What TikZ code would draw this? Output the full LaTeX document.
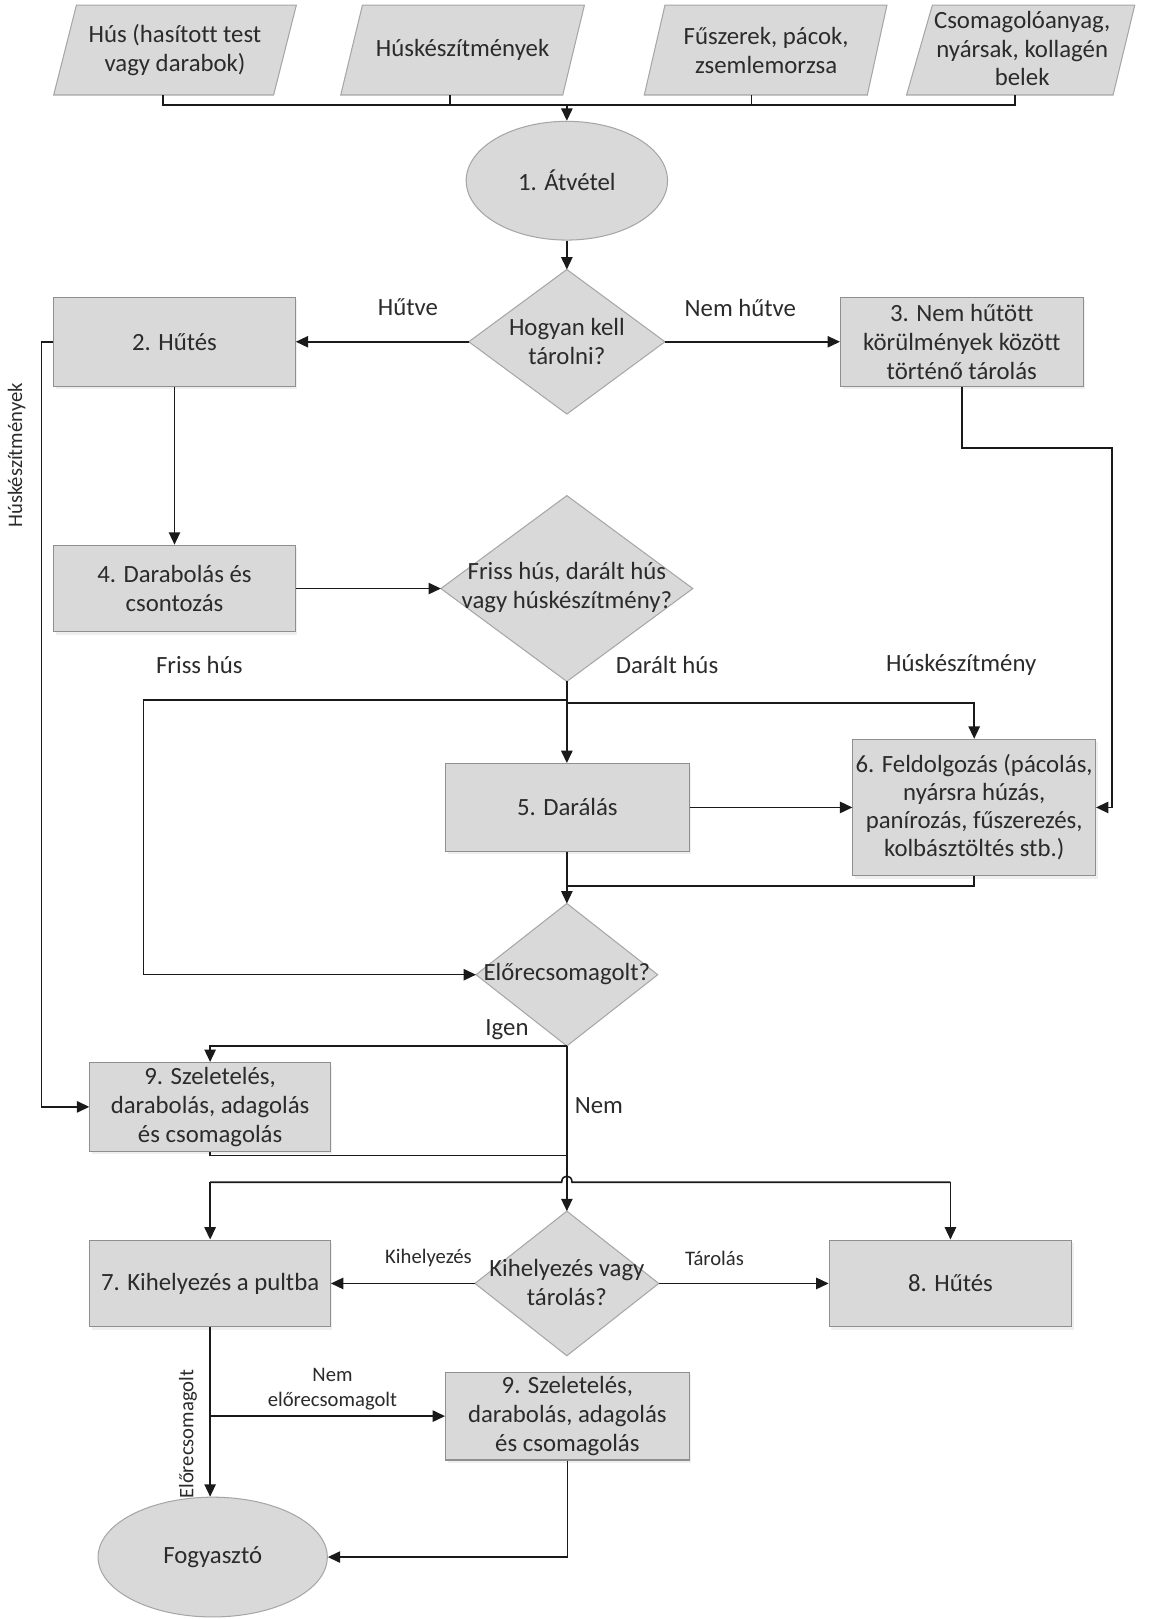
\documentclass[tikz,border=0pt]{standalone}
\usepackage{fontspec}
\setmainfont{Carlito}[Ligatures=CommonOff]
\usetikzlibrary{arrows.meta,shapes.geometric,shadows}
\definecolor{boxfill}{HTML}{D9D9D9}
\definecolor{boxdraw}{HTML}{8F8F8F}
\definecolor{diadraw}{HTML}{A6A6A6}
\definecolor{txtc}{HTML}{2B2B2B}
\definecolor{linec}{HTML}{1A1A1A}
\begin{document}
\begin{tikzpicture}[x=1pt,y=-1pt,
  every node/.style={text=txtc},
  big/.style={font=\fontsize{24}{28}\selectfont, align=center, inner sep=0pt},
  small/.style={font=\fontsize{20}{24}\selectfont, align=center, inner sep=0pt},
  procbox/.style={rectangle, fill=boxfill, draw=boxdraw, line width=1pt, big,
     drop shadow={shadow xshift=2pt, shadow yshift=-3pt, opacity=0.12}},
  decis/.style={diamond, fill=boxfill, draw=diadraw, line width=1pt, inner sep=0pt, outer sep=0pt},
  term/.style={ellipse, fill=boxfill, draw=diadraw, line width=1pt, inner sep=0pt, big},
  inshape/.style={fill=boxfill, draw=diadraw, line width=1pt},
  conn/.style={draw=linec, line width=1.5pt},
  arr/.style={conn, -{Triangle[length=12pt,width=11pt]}},
]
\fill[white] (0,0) rectangle (1115,1568);
\useasboundingbox (0,0) rectangle (1115,1568);

% inputs
\filldraw[inshape] (74,5) -- (287,5) -- (265,92) -- (52,92) -- cycle;
\node[big] (p1) at (169.5,48.5) {Hús (hasított test\\vagy darabok)};
\filldraw[inshape] (351,5) -- (566,5) -- (545,92) -- (330,92) -- cycle;
\node[big] (p2) at (448,48.5) {Húskészítmények};
\filldraw[inshape] (644,5) -- (859,5) -- (840,92) -- (624,92) -- cycle;
\node[big] (p3) at (742,48.5) {Fűszerek, pácok,\\zsemlemorzsa};
\filldraw[inshape] (903,5) -- (1099,5) -- (1078,92) -- (878,92) -- cycle;
\node[big] (p4) at (990,47) {Csomagolóanyag,\\nyársak, kollagén\\belek};
\coordinate (p1b) at (158,92);
\coordinate (p2b) at (436,92);
\coordinate (p3b) at (728,92);
\coordinate (p4b) at (983,92);
\coordinate (hl) at (549,101.5);

% shapes
\node[term, minimum width=195pt, minimum height=115pt] (e1) at (549,175) {1. Átvétel};
\node[decis, minimum width=190pt, minimum height=140pt] (d1) at (549,331) {};
\node[big] (d1t) at (549,331) {Hogyan kell\\tárolni?};
\node[procbox, minimum width=234pt, minimum height=86pt] (b2) at (169,331) {2. Hűtés};
\node[procbox, minimum width=235pt, minimum height=86pt] (b3) at (931.5,331) {3. Nem hűtött\\körülmények között\\történő tárolás};
\node[procbox, minimum width=234pt, minimum height=84pt] (b4) at (169,570) {4. Darabolás és\\csontozás};
\node[decis, minimum width=244pt, minimum height=180pt] (d2) at (549,570) {};
\node[big] (d2t) at (549,569) {Friss hús, darált hús\\vagy húskészítmény?};
\node[procbox, minimum width=236pt, minimum height=85pt] (b5) at (549.5,782) {5. Darálás};
\node[procbox, minimum width=235pt, minimum height=132pt, font=\fontsize{24}{27}\selectfont] (b6) at (943.5,782) {6. Feldolgozás (pácolás,\\nyársra húzás,\\panírozás, fűszerezés,\\kolbásztöltés stb.)};
\node[decis, minimum width=176pt, minimum height=138pt] (d3) at (549,944) {};
\node[big] (d3t) at (549,943) {Előrecsomagolt?};
\node[procbox, minimum width=233pt, minimum height=86pt] (b9a) at (203.5,1072) {9. Szeletelés,\\darabolás, adagolás\\és csomagolás};
\node[decis, minimum width=178pt, minimum height=140pt] (d4) at (549,1243) {};
\node[big] (d4t) at (549,1242) {Kihelyezés vagy\\tárolás?};
\node[procbox, minimum width=233pt, minimum height=84pt] (b7) at (203.5,1243) {7. Kihelyezés a pultba};
\node[procbox, minimum width=235pt, minimum height=84pt] (b8) at (920.5,1243) {8. Hűtés};
\node[procbox, minimum width=236pt, minimum height=85pt] (b9b) at (549.5,1371.5) {9. Szeletelés,\\darabolás, adagolás\\és csomagolás};
\node[term, minimum width=222pt, minimum height=116pt] (fog) at (206,1508) {Fogyasztó};

% labels
\node[big] (lh) at (395,297) {Hűtve};
\node[big] (lnh) at (717,298) {Nem hűtve};
\node[big] (lfh) at (193,644) {Friss hús};
\node[big] (ldh) at (646,644) {Darált hús};
\node[big] (lhk) at (931,644) {Húskészítmény};
\node[big] (ligen) at (491,997) {Igen};
\node[big] (lnem) at (580,1071) {Nem};
\node[small] (lkih) at (415,1218) {Kihelyezés};
\node[small] (ltar) at (692,1219) {Tárolás};
\node[small] (lnep) at (322,1345) {Nem\\előrecsomagolt};
\node[small, rotate=90] (lep) at (182,1389) {Előrecsomagolt};
\node[small, rotate=90] (lhks) at (16,441) {Húskészítmények};

% connectors
\draw[conn] (p1b) |- (hl);
\draw[conn] (p4b) |- (hl);
\draw[conn] (p2b) -- (p2b |- hl);
\draw[conn] (p3b) -- (p3b |- hl);
\draw[arr] (hl) -- (e1);
\draw[arr] (e1) -- (d1);
\draw[arr] (d1) -- (b2);
\draw[arr] (d1) -- (b3);
\draw[arr] (b2) -- (b4);
\draw[arr] (b4) -- (d2);
\coordinate (c3) at (1077,434);
\draw[arr] (b3.south) |- (c3) |- (b6.east);
\coordinate (fl) at (139,678);
\coordinate (fr) at (549,681);
\draw[arr] (d2.south) -- (d2.south |- b5.north);
\draw[arr] (d2.south |- fl) -- (fl) |- (d3);
\draw[arr] (fr) -| (b6);
\draw[arr] (b5) -- (b6);
\draw[arr] (d3.north |- b5.south) -- (d3.north);
\coordinate (j6) at (549,858);
\draw[conn] (b6.south) |- (j6);
\draw[arr] (d3.south) -| (b9a);
\draw[arr] (d3.south) -- (d4.north);
\coordinate (j9) at (549,1119);
\draw[conn] (b9a.south) |- (j9);
\coordinate (h7) at (203.5,1145);
\coordinate (h8) at (920.5,1145);
\coordinate (jl) at (544,1145);
\coordinate (jr) at (554,1145);
\draw[conn] (h7) -- (jl) .. controls (544,1137) and (554,1137) .. (jr) -- (h8);
\draw[arr] (h7) -- (b7);
\draw[arr] (h8) -- (b8);
\coordinate (hk) at (40,331);
\draw[arr] (b2.west) -- (hk) |- (b9a.west);
\draw[arr] (d4) -- (b7);
\draw[arr] (d4) -- (b8);
\draw[arr] (b7.south) -- (b7.south |- fog.north);
\draw[arr] (b7.south |- b9b.west) -- (b9b.west);
\draw[arr] (b9b.south) |- (fog.east);
\end{tikzpicture}
\end{document}
